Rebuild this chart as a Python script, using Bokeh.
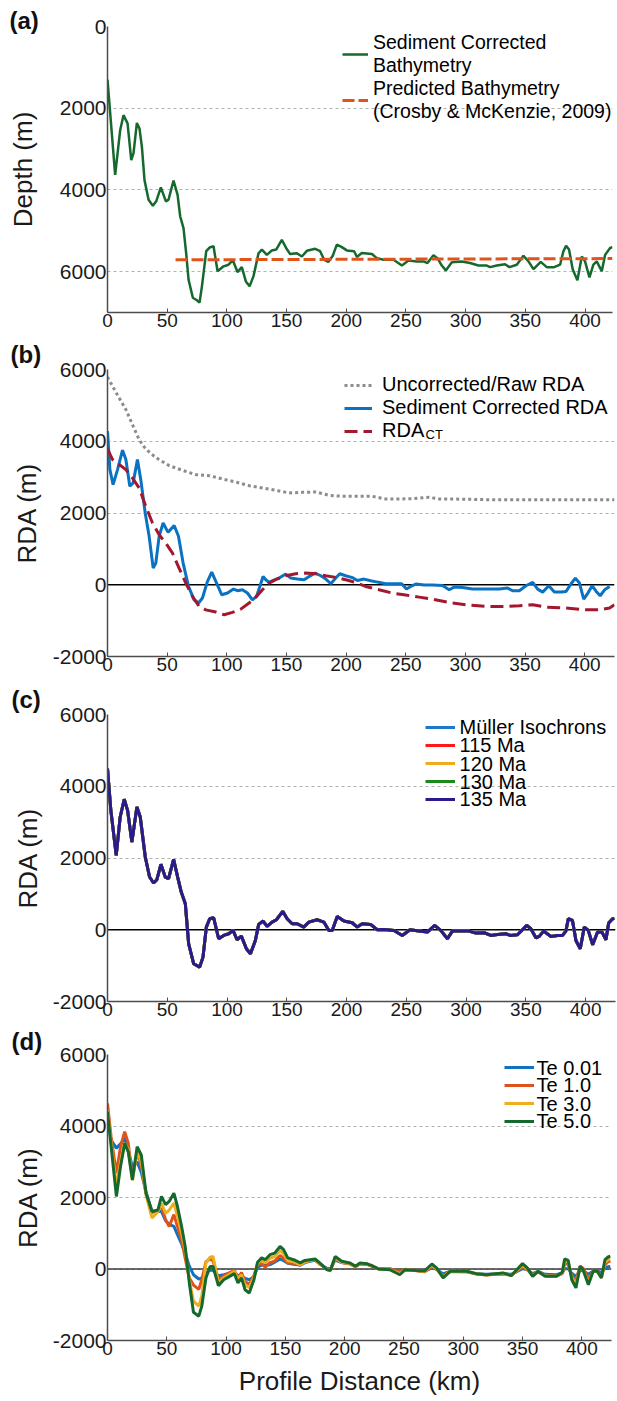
from bokeh.plotting import figure
from bokeh.models import Range1d, Span, Label, Legend, LegendItem, FixedTicker, Title
from bokeh.layouts import column
from bokeh.core.properties import value
from bokeh.embed import file_html
from bokeh.resources import INLINE

FONT = "Liberation Sans"

# ---------------- data ----------------
x_ticks = [0, 50, 100, 150, 200, 250, 300, 350, 400]
depth_ticks = [0, 2000, 4000, 6000]
rda_ticks = [-2000, 0, 2000, 4000, 6000]

# (a) sediment corrected bathymetry
bathy_km = [0, 6.4, 10.6, 13.4, 16.8, 19.9, 21.8, 24.6, 26.8, 28.8, 31, 34.4, 38, 40.8, 44.7, 48.9, 51.1,
            55.3, 58.7, 60.9, 63.7, 65.9, 67.9, 71.5, 74.9, 77.1, 79.1, 82.7, 85.5, 88.8, 92.2, 97.2, 101.4,
            105, 108.9, 112.5, 115.9, 119, 122.3, 126.5, 129.3, 133.5, 137.7, 141.3, 146, 149.6, 153, 158.6,
            162.8, 167, 174, 178.1, 181.5, 185.1, 188.7, 192.1, 196.3, 200.5, 206.6, 208.9, 213, 221.5, 225.6,
            231.2, 239.6, 246.6, 252.1, 259.1, 264.7, 268, 273, 276.4, 280, 283.4, 288.4, 296.7, 303.7, 310.7,
            317.7, 320.5, 326.1, 333, 336.7, 342.8, 348.4, 352.6, 356.8, 362.9, 367.9, 374.1, 379.1, 381.9,
            384.1, 386.6, 389.7, 393.6, 397.3, 400, 403.7, 407, 409.8, 414, 416.8, 421, 423]
bathy_depth = [1300, 3630, 2540, 2170, 2370, 3270, 3100, 2360, 2500, 2940, 3760, 4240, 4390, 4280, 3940, 4280,
               4240, 3770, 4120, 4650, 4940, 5550, 6200, 6640, 6700, 6760, 6360, 5500, 5410, 5380, 5990, 5870,
               5830, 5720, 6010, 5890, 6240, 6360, 6110, 5550, 5460, 5590, 5480, 5460, 5220, 5420, 5570, 5550,
               5630, 5490, 5440, 5500, 5710, 5760, 5610, 5340, 5400, 5480, 5500, 5640, 5545, 5570, 5670, 5710,
               5710, 5850, 5730, 5750, 5750, 5790, 5600, 5670, 5850, 5970, 5770, 5750, 5790, 5850, 5850, 5890,
               5850, 5820, 5890, 5830, 5610, 5750, 5940, 5760, 5890, 5890, 5830, 5500, 5370, 5460, 5950, 6210,
               5630, 5750, 6140, 5830, 5750, 5990, 5590, 5420, 5400]
pred_km = [57, 423]
pred_depth = [5710, 5680]

# (b) RDA
raw_km = [0, 4.2, 9.8, 15.4, 20.9, 26.5, 30.7, 36.3, 43.3, 51.7, 62.8, 74, 85.2, 96.4, 107.5, 118.7, 129.9,
          141.1, 152.2, 163.4, 174.6, 185.8, 196.9, 208.1, 222, 233.2, 244.4, 255.6, 269.6, 278, 289.2, 317.2,
          345.2, 373.2, 401.2, 425]
raw_rda = [5794, 5534, 5208, 4883, 4464, 4046, 3841, 3655, 3488, 3320, 3190, 3069, 3041, 2948, 2864, 2762,
           2697, 2632, 2558, 2576, 2585, 2492, 2465, 2465, 2465, 2390, 2390, 2400, 2437, 2390, 2390, 2372,
           2372, 2372, 2372, 2372]
sed_km = [0, 2, 4.7, 8.4, 12.6, 15.4, 18.7, 21.5, 25.1, 27.9, 31.6, 34.9, 38.3, 40.5, 43.3, 46.6, 50.8, 55.9,
          59.5, 63.4, 67.9, 72.6, 76.3, 79.6, 83.8, 87.4, 90.8, 95.8, 100.6, 105.6, 108.9, 113.1, 117.3, 121.5,
          124.9, 127.7, 130.4, 132.7, 135.5, 138.8, 143.9, 149.4, 153.6, 159.2, 164.8, 169, 174, 178.8, 183,
          187.2, 191.3, 194.7, 199.7, 205.3, 209.4, 215, 220.6, 226.2, 233.2, 241.6, 246.6, 250.6, 254.2,
          258.4, 265.4, 272.4, 280.8, 286.4, 290.6, 297.6, 306, 317.2, 328.4, 335.4, 339.6, 345.2, 350.8,
          356.4, 360.6, 364.8, 369.9, 374.6, 380.2, 384.4, 388.6, 392.2, 395.6, 399.2, 402.7, 406.3, 409.7,
          413, 416.7, 420.9]
sed_rda = [4280, 3210, 2790, 3210, 3750, 3490, 2745, 2840, 3490, 2930, 2000, 1350, 465, 605, 1350, 1720, 1460,
           1650, 1350, 605, -47, -420, -510, -370, 93, 353, 93, -280, -230, -120, -167, -140, -230, -420,
           -325, -47, 232, 140, 65, 120, 186, 298, 186, 158, 140, 232, 325, 251, 158, 28, 186, 307, 251, 200,
           120, 158, 112, 74, 28, 28, 28, -121, -47, 19, -9, -9, -19, -140, -65, -74, -121, -121, -121, -93,
           -167, -167, -28, 65, -121, -205, -28, -205, -205, -186, 28, 186, 47, -400, -232, -28, -186, -307,
           -140, -47]
ct_km = [0, 4.2, 9.8, 15.4, 20.9, 26.5, 32.1, 37.7, 43.3, 48.9, 54.5, 60, 65.6, 71.2, 76.8, 82.4, 90.8, 97.8,
         104.7, 111.7, 118.7, 124.3, 129.9, 135.5, 142.5, 149.4, 157.8, 166.2, 174.6, 183, 191.3, 199.7, 208.1,
         216.4, 227.6, 238.8, 250, 261.2, 278, 289.2, 300.4, 317.2, 334.1, 345.2, 356.4, 367.6, 384.4, 401.2,
         412.4, 420.9, 425]
ct_rda = [3785, 3490, 3350, 3210, 2975, 2700, 2185, 1720, 1395, 1160, 880, 465, 47, -325, -605, -700, -760,
          -837, -770, -680, -510, -345, -140, 47, 167, 251, 307, 325, 307, 251, 205, 140, 65, -47, -140, -232,
          -288, -345, -437, -510, -558, -605, -605, -586, -558, -623, -651, -698, -698, -651, -560]

# (c) plate-age sensitivity
c_km = [0, 2.8, 7.3, 10.6, 14, 16.8, 20.4, 24.6, 27.4, 31.6, 35.2, 38.5, 41.3, 44.7, 48.3, 51.1, 55.3, 58.7,
        61.7, 65.1, 67.9, 72.1, 77.1, 79.9, 82.7, 85.5, 88.8, 93, 97.2, 101.4, 105, 108.4, 112, 116.2, 119.6,
        123.7, 126.5, 130.2, 133.5, 137.7, 141.3, 146.6, 150.3, 154.5, 158.7, 164.2, 168.4, 175.4, 181, 185.2,
        188, 192.2, 197.8, 204.7, 208.9, 213.1, 220.1, 225.7, 231.3, 239.7, 246.6, 253.1, 260.6, 267.6, 273.7,
        278.8, 284.4, 288.5, 295.5, 302.5, 308.1, 315.1, 320.7, 326.3, 333.2, 336.9, 343, 350.8, 354.2, 358.4,
        361.2, 364.8, 371, 376.5, 380.7, 383.5, 385.5, 389, 391.9, 395.5, 398.9, 402.2, 405.9, 410, 413.7, 417,
        419.3, 422.6, 424]
c_rda = [4492, 3329, 2074, 3143, 3636, 3329, 2446, 3422, 3143, 2027, 1469, 1302, 1395, 1823, 1469, 1423, 1962,
         1469, 1051, 725, -391, -949, -1042, -763, 74, 307, 335, -251, -158, -112, -19, -279, -177, -530, -670,
         -298, 149, 242, 93, 214, 279, 512, 307, 167, 167, 74, 214, 279, 214, -19, -19, 372, 242, 195, 74, 167,
         149, 0, 9, -19, -158, 0, -37, -65, 121, -19, -251, -37, -37, -37, -93, -84, -158, -130, -112, -158,
         -140, 121, 28, -223, -186, -37, -186, -158, -158, -37, 307, 260, -298, -530, 74, -19, -419, -65, -65,
         -279, 186, 307, 316]
c_names = ["Müller Isochrons", "115 Ma", "120 Ma", "130 Ma", "135 Ma"]
c_colors = ["#1f78c8", "#ff1a1a", "#f0aa1c", "#1a8a1a", "#2a1a8e"]

# (d) elastic thickness sensitivity
d_km = [0, 3, 7.5, 11, 14.5, 17.5, 21, 25, 28.5, 32.5,
        37.5, 42.5, 45.5, 49, 52, 56, 59, 62.5, 65.5, 69,
        72.5, 77, 79.5, 83, 86.5, 89, 93.5, 98, 103, 107,
        110, 113, 116, 119.5, 123.5, 126.5, 130, 133, 137, 141,
        145.5, 148.5, 152, 157, 162.5, 166.5, 175, 179, 185, 188,
        192, 197.5, 204.5, 209, 213, 218.5, 223, 228.5, 238, 246.5,
        251, 260.5, 267.5, 273.5, 277.5, 283, 289, 303, 311, 319.5,
        333.5, 340.5, 350, 354, 358.5, 363, 369, 378.5, 383.5, 385.5,
        388.5, 391.5, 395, 398.5, 401, 405.5, 409.5, 413, 416.5, 419.5,
        422, 424]
te001 = [4260, 3610, 3380, 3500, 3650, 3300, 2860, 3000, 2700, 2150,
         1620, 1610, 1610, 1350, 1250, 1190, 960, 700, 440, 80,
         -160, -280, -250, -110, -30, -40, -190, -160, -120, -110,
         -180, -200, -260, -300, -220, 50, 110, 110, 120, 190,
         280, 230, 160, 130, 110, 180, 250, 140, 20, 10,
         250, 180, 150, 80, 140, 130, 80, 10, 0, -60,
         -20, -40, -60, 30, -10, -140, -60, -80, -130, -150,
         -130, -150, 10, -20, -130, -70, -150, -160, -110, 10,
         10, -120, -210, -40, -40, -150, -60, -50, -100, 20,
         60, 70]
te1 = [4630, 3700, 2680, 3420, 3840, 3520, 2540, 3280, 2900, 2120,
       1580, 1650, 1750, 1380, 1190, 1520, 1190, 820, 300, -250,
       -450, -570, -300, 200, 280, 230, -300, -200, -100, -40,
       -250, -100, -350, -430, -180, 120, 150, 50, 180, 220,
       380, 300, 170, 160, 110, 200, 270, 140, 0, -20,
       300, 180, 140, 60, 150, 140, 80, 0, 10, -80,
       -10, -50, -80, 70, 0, -200, -70, -80, -140, -170,
       -130, -170, 60, -20, -170, -80, -180, -200, -130, 150,
       130, -200, -330, 80, 20, -280, -60, -60, -200, 110,
       200, 230]
te3 = [4450, 3550, 2300, 3000, 3520, 3350, 2490, 3280, 3000, 2070,
       1430, 1600, 1840, 1560, 1650, 1840, 1470, 1000, 540, -300,
       -900, -1040, -760, 170, 330, 350, -390, -250, -150, -60,
       -300, -160, -450, -520, -230, 160, 250, 170, 300, 350,
       520, 430, 230, 200, 120, 200, 270, 150, -10, -30,
       310, 190, 150, 60, 150, 140, 90, 0, -10, -130,
       -20, -40, -60, 100, 10, -230, -60, -70, -130, -160,
       -120, -180, 100, 0, -190, -70, -190, -200, -110, 220,
       200, -250, -430, 50, -30, -380, -70, -70, -240, 180,
       260, 280]
te5 = [4400, 3450, 2030, 2870, 3520, 3280, 2490, 3420, 3190, 2120,
       1610, 1650, 2030, 1800, 1890, 2120, 1750, 1190, 630, -390,
       -1210, -1320, -1040, -250, 70, 70, -465, -300, -205, -130,
       -390, -250, -580, -670, -300, 190, 310, 260, 400, 445,
       630, 540, 310, 260, 170, 240, 280, 170, -20, -40,
       350, 215, 170, 75, 170, 150, 95, 0, -20, -160,
       -20, -40, -50, 140, 30, -250, -65, -65, -130, -160,
       -110, -185, 150, 30, -205, -65, -205, -205, -90, 280,
       240, -300, -530, 75, -20, -440, -65, -65, -250, 260,
       335, 355]
d_names = ["Te 0.01", "Te 1.0", "Te 3.0", "Te 5.0"]
d_colors = ["#1272c2", "#e0521d", "#efae1c", "#16692e"]


# ---------------- helpers ----------------
def make_fig(frame_w, frame_h, x_end, y_start, y_end, y_ticks, b_left, b_top, b_bottom, ylabel, ylab_standoff):
    p = figure(frame_width=frame_w, frame_height=frame_h,
               x_range=Range1d(0, x_end), y_range=Range1d(y_start, y_end),
               output_backend="svg", toolbar_location=None,
               min_border_left=b_left, min_border_top=b_top,
               min_border_bottom=b_bottom, min_border_right=4)
    p.outline_line_color = None
    p.border_fill_color = "white"
    p.background_fill_color = "white"
    xt = FixedTicker(ticks=x_ticks)
    yt = FixedTicker(ticks=y_ticks)
    p.xaxis.ticker = xt
    p.yaxis.ticker = yt
    p.yaxis.major_label_overrides = {-2000: "-2000"}
    p.xgrid.visible = False
    p.ygrid.ticker = yt
    p.ygrid.grid_line_color = "#b0b0b0"
    p.ygrid.grid_line_dash = "3 3"
    p.ygrid.grid_line_width = 1
    for ax in (p.xaxis[0], p.yaxis[0]):
        ax.axis_line_color = "#4d4d4d"
        ax.axis_line_width = 1.5
        ax.minor_tick_line_color = None
        ax.major_label_text_font = FONT
        ax.major_label_text_color = "#1a1a1a"
        ax.axis_label_text_font = FONT
        ax.axis_label_text_font_style = "normal"
        ax.axis_label_text_font_size = "26px"
        ax.axis_label_text_color = "#1a1a1a"
    p.xaxis.major_tick_in = 4
    p.xaxis.major_tick_out = 0
    p.xaxis.major_tick_line_color = "#4d4d4d"
    p.yaxis.major_tick_in = 0
    p.yaxis.major_tick_out = 0
    p.yaxis.major_tick_line_color = None
    p.xaxis.major_label_text_font_size = "19px"
    p.yaxis.major_label_text_font_size = "21px"
    p.xaxis.major_label_standoff = 1
    p.yaxis.major_label_standoff = 1
    p.yaxis.axis_label = ylabel
    p.yaxis.axis_label_standoff = ylab_standoff
    return p


def panel_title(p, text, offset, standoff):
    p.title = Title(text=text, align="left", offset=offset, standoff=standoff,
                    vertical_align="bottom", text_font=FONT, text_font_size="24px",
                    text_font_style="bold", text_color="#111111")


def zero_line(p, color="black"):
    p.add_layout(Span(location=0, dimension="width", line_color=color, line_width=1.5, level="underlay"))


def make_legend(items, loc, glyph_w, standoff, spacing, label_h, font_size="20px"):
    leg = Legend(items=items, location=loc)
    leg.label_text_font = FONT
    leg.label_text_font_size = font_size
    leg.label_text_color = "black"
    leg.border_line_color = None
    leg.background_fill_alpha = 0
    leg.padding = 0
    leg.margin = 0
    leg.glyph_width = glyph_w
    leg.glyph_height = label_h
    leg.label_height = label_h
    leg.label_standoff = standoff
    leg.spacing = spacing
    return leg


def text_label(p, x, y, text, size="20px"):
    p.add_layout(Label(x=x, y=y, text=text, text_font=FONT, text_font_size=size,
                       text_baseline="middle", text_align="left", text_color="black"))


# ---------------- (a) ----------------
pa = make_fig(505, 286, 423, 7000, 0, depth_ticks, 107, 26, 23, "Depth (m)", 19)
ra1 = pa.line(bathy_km, bathy_depth, line_color="#16692e", line_width=2.5)
ra2 = pa.line(pred_km, pred_depth, line_color="#e2531c", line_width=3, line_dash="12 4")
pa.add_layout(make_legend([LegendItem(label=value("Sediment Corrected\nBathymetry"), renderers=[ra1]),
                           LegendItem(label=value("Predicted Bathymetry\n(Crosby & McKenzie, 2009)"), renderers=[ra2])],
                          (235, 189), 26, 5, 0, 20, "19.5px"))
panel_title(pa, "(a)", -98, -14)

# ---------------- (b) ----------------
pb = make_fig(507, 287, 425, -2000, 6000, rda_ticks, 105, 34, 23, "RDA (m)", 8)
zero_line(pb)
rb1 = pb.line(raw_km, raw_rda, line_color="#8c8c8c", line_width=3, line_dash="3 3")
rb2 = pb.line(sed_km, sed_rda, line_color="#0a72c2", line_width=3)
rb3 = pb.line(ct_km, ct_rda, line_color="#a3172f", line_width=3, line_dash="13 6")
pb.add_layout(make_legend([LegendItem(label=value("Uncorrected/Raw RDA"), renderers=[rb1]),
                           LegendItem(label=value("Sediment Corrected RDA"), renderers=[rb2]),
                           LegendItem(label=value("RDA"), renderers=[rb3])],
                          (237, 214), 28, 10, 0, 20))
text_label(pb, 266.6, 4188, "CT", "13px")
panel_title(pb, "(b)", -97, 4)

# ---------------- (c) ----------------
pc = make_fig(508, 287, 425, -2000, 6000, rda_ticks, 104, 35, 23, "RDA (m)", 7)
zero_line(pc)
c_items = []
for name, col in zip(c_names, c_colors):
    r = pc.line(c_km, c_rda, line_color=col, line_width=3)
    c_items.append(LegendItem(label=value(" "), renderers=[r]))
pc.add_layout(make_legend(c_items, (318, 193), 30, 4, 0, 18, "1px"))
for name, yv in zip(c_names, [5638, 5136, 4634, 4132, 3631]):
    text_label(pc, 294.5, yv, name)
panel_title(pc, "(c)", -96, 4)

# ---------------- (d) ----------------
pd_ = make_fig(504, 286, 425, -2000, 6000, rda_ticks, 104, 30, 60, "RDA (m)", 7)
pd_.xaxis.axis_label = "Profile Distance (km)"
pd_.xaxis.axis_label_standoff = 8
zero_line(pd_, "#3a3a3a")
d_items = []
for name, col, vals in zip(d_names, d_colors, [te001, te1, te3, te5]):
    r = pd_.line(d_km, vals, line_color=col, line_width=3)
    d_items.append(LegendItem(label=value(" "), renderers=[r]))
pd_.add_layout(make_legend(d_items, (397, 210), 30, 2, 0, 18, "1px"))
for name, yv in zip(d_names, [5636, 5133, 4629, 4126]):
    text_label(pd_, 361.8, yv, name)
panel_title(pd_, "(d)", -96, 0)

layout = column(pa, pb, pc, pd_)
open("out.html", "w").write(file_html(layout, INLINE))
